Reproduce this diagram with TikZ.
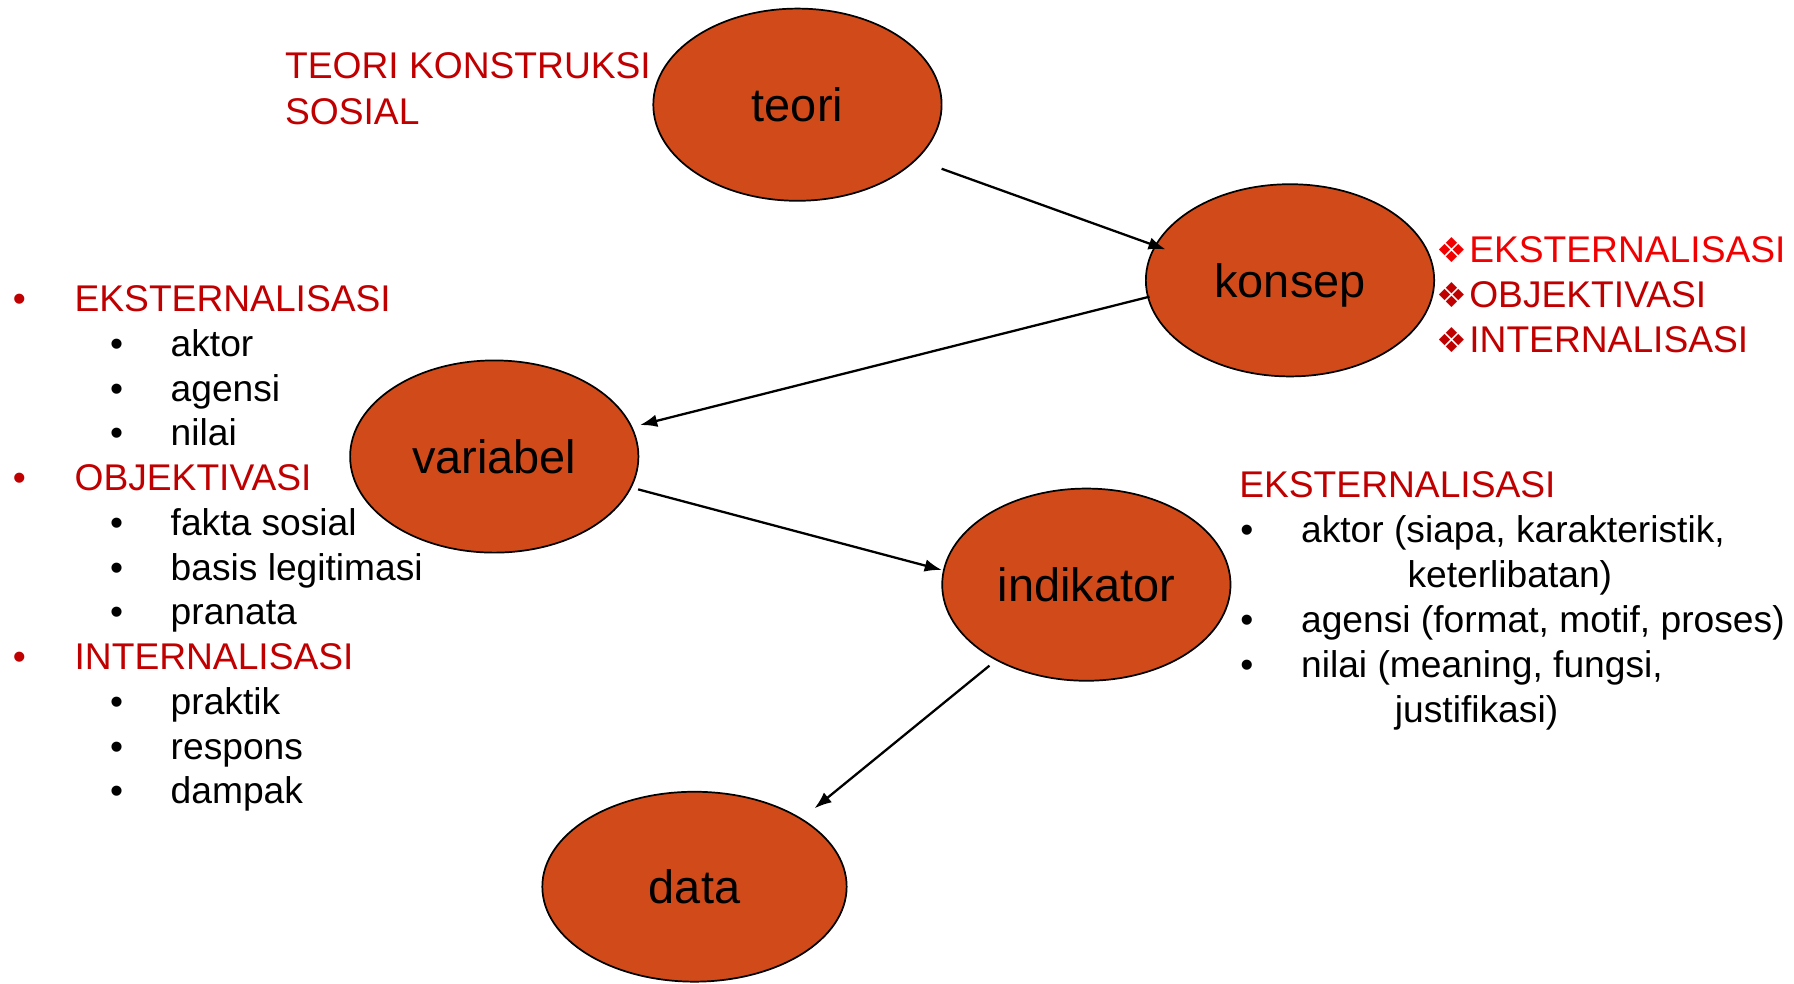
\documentclass[tikz,border=0pt]{standalone}
\usepackage{fontspec}
\setmainfont{Liberation Sans}
\newfontfamily\symfont{DejaVu Sans}
\usetikzlibrary{arrows.meta,shapes.geometric}
\definecolor{nodefill}{RGB}{209,74,26}
\definecolor{darkred}{RGB}{192,0,0}
\definecolor{brightred}{RGB}{240,0,0}
\begin{document}
\begin{tikzpicture}[x=1pt,y=-1pt,
  blob/.style={ellipse, draw=black, line width=1.5pt, fill=nodefill,
    minimum width=252pt, minimum height=168pt, inner sep=0pt,
    font=\fontsize{41}{48}\selectfont, text height=30pt, text depth=0pt},
  conn/.style={line width=2pt, -{Latex[length=15pt,width=11pt]}},
  txt/.style={anchor=base west, inner sep=0pt, font=\fontsize{32.5}{39}\selectfont},
  redtxt/.style={txt, text=darkred},
  brtxt/.style={txt, text=brightred},
  sym/.style={anchor=base west, inner sep=0pt, font=\symfont\fontsize{30}{35}\selectfont}
]
\useasboundingbox (0,0) rectangle (1568,860);

% ellipses
\node[blob] (teori) at (697,91.5) {teori};
\node[blob] (konsep) at (1127.5,245) {konsep};
\node[blob] (variabel) at (432,399) {variabel};
\node[blob] (indikator) at (949.5,511) {indikator};
\node[blob, minimum width=266pt, minimum height=166pt] (data) at (607,775) {data};

% connector end points
\coordinate (t1) at (823,147.5);
\coordinate (k1) at (1018.8,218);
\coordinate (k2) at (1004.7,259.3);
\coordinate (v1) at (559.4,371.5);
\coordinate (v2) at (557.7,427.7);
\coordinate (i1) at (823.2,498.2);
\coordinate (i2) at (864.8,581.8);
\coordinate (d1) at (711.9,706.5);

\draw[conn] (t1) -- (k1);
\draw[conn] (k2) -- (v1);
\draw[conn] (v2) -- (i1);
\draw[conn] (i2) -- (d1);

% title
\node[redtxt] (title1) at (249,69) {TEORI KONSTRUKSI};
\node[redtxt] (title2) at (249,108.4) {SOSIAL};

% konsep list
\node[sym, text=brightred] (ks1) at (1255,229.5) {❖};
\node[brtxt] (kt1) at (1284,229.5) {EKSTERNALISASI};
\node[sym, text=darkred] (ks2) at (1255,268.5) {❖};
\node[redtxt] (kt2) at (1284,268.5) {OBJEKTIVASI};
\node[sym, text=darkred] (ks3) at (1255,308) {❖};
\node[redtxt] (kt3) at (1284,308) {INTERNALISASI};

% left list
\node[redtxt] (lb1) at (11,272.5) {\textbullet};
\node[redtxt] (lt1) at (65,272.5) {EKSTERNALISASI};
\node[txt] (lb2) at (96,311.6) {\textbullet};
\node[txt] (lt2) at (149,311.6) {aktor};
\node[txt] (lb3) at (96,350.7) {\textbullet};
\node[txt] (lt3) at (149,350.7) {agensi};
\node[txt] (lb4) at (96,389.8) {\textbullet};
\node[txt] (lt4) at (149,389.8) {nilai};
\node[redtxt] (lb5) at (11,428.9) {\textbullet};
\node[redtxt] (lt5) at (65,428.9) {OBJEKTIVASI};
\node[txt] (lb6) at (96,468) {\textbullet};
\node[txt] (lt6) at (149,468) {fakta sosial};
\node[txt] (lb7) at (96,507.1) {\textbullet};
\node[txt] (lt7) at (149,507.1) {basis legitimasi};
\node[txt] (lb8) at (96,546.2) {\textbullet};
\node[txt] (lt8) at (149,546.2) {pranata};
\node[redtxt] (lb9) at (11,585.3) {\textbullet};
\node[redtxt] (lt9) at (65,585.3) {INTERNALISASI};
\node[txt] (lb10) at (96,624.4) {\textbullet};
\node[txt] (lt10) at (149,624.4) {praktik};
\node[txt] (lb11) at (96,663.5) {\textbullet};
\node[txt] (lt11) at (149,663.5) {respons};
\node[txt] (lb12) at (96,702.6) {\textbullet};
\node[txt] (lt12) at (149,702.6) {dampak};

% indikator list
\node[redtxt] (it0) at (1083,435) {EKSTERNALISASI};
\node[txt] (ib1) at (1084,474) {\textbullet};
\node[txt] (it1) at (1137,474) {aktor (siapa, karakteristik,};
\node[txt] (it1b) at (1230,513.3) {keterlibatan)};
\node[txt] (ib2) at (1084,552.5) {\textbullet};
\node[txt] (it2) at (1137,552.5) {agensi (format, motif, proses)};
\node[txt] (ib3) at (1084,591.9) {\textbullet};
\node[txt] (it3) at (1137,591.9) {nilai (meaning, fungsi,};
\node[txt] (it3b) at (1219,631.3) {justifikasi)};
\end{tikzpicture}
\end{document}
